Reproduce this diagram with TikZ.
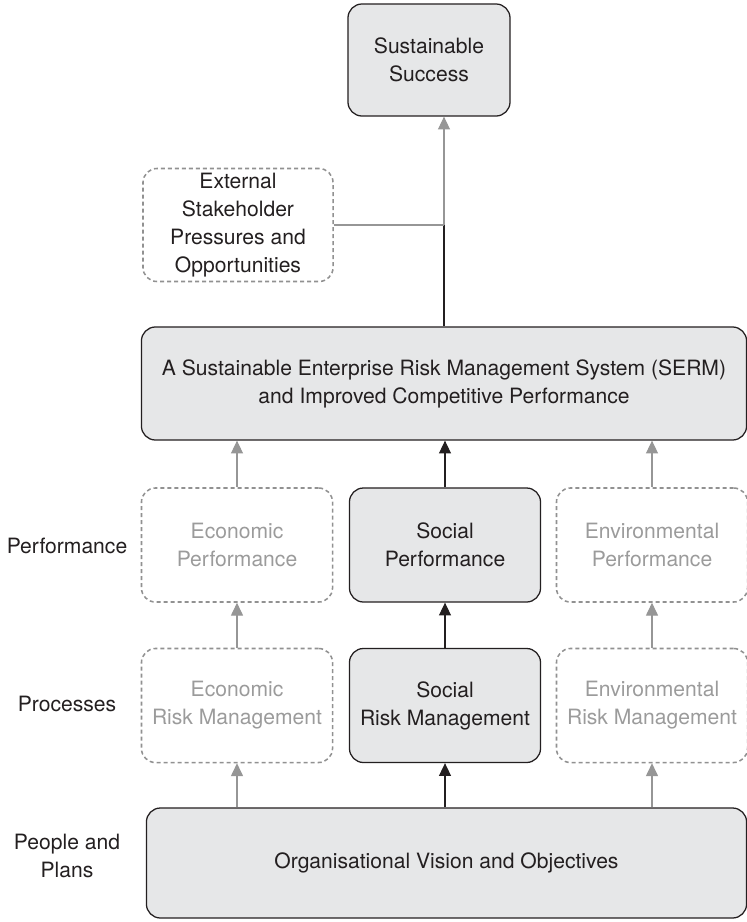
\documentclass[tikz,border=0pt]{standalone}
\usepackage{fontspec}
\setmainfont{TeX Gyre Heros}
\usetikzlibrary{arrows.meta}
\begin{document}
\begin{tikzpicture}[x=0.025cm, y=-0.025cm, line width=0.8pt,
    solidbox/.style={
            draw=inkcolor,
            fill=boxcolor,
            line width=0.9pt,
            rounded corners=0.35cm,
            align=center,
            inner sep=0pt,
            text=inkcolor,
            font=\fontsize{15}{20}\selectfont
          },
    dashbox/.style={
            draw=dashcolor,
            dash pattern=on 1mm off 0.75mm,
            line width=1.1pt,
            rounded corners=0.35cm,
            align=center,
            inner sep=0pt,
            text=dimcolor,
            font=\fontsize{15}{20}\selectfont
          },
    rowbox/.style={minimum width=4.775cm, minimum height=2.85cm},
    sidelabel/.style={align=center, text=inkcolor, font=\fontsize{15}{20}\selectfont},
    darkarrow/.style={draw=inkcolor, -{Triangle[width=3mm, length=3.2mm]}},
    greyarrow/.style={draw=arrowcolor, -{Triangle[width=3mm, length=3.2mm]}}]
        % Define colors
        \definecolor{boxcolor}{RGB}{230, 231, 232}
        \definecolor{inkcolor}{RGB}{35, 31, 32}
        \definecolor{dashcolor}{RGB}{145, 145, 145}
        \definecolor{dimcolor}{RGB}{155, 155, 155}
        \definecolor{arrowcolor}{RGB}{150, 150, 150}

    \useasboundingbox (0,0) rectangle (747,922);

    % top of the chain
    \node[solidbox, minimum width=4.05cm, minimum height=2.8cm] (success) at (429,60) {Sustainable\\Success};
    \node[dashbox, text=inkcolor, minimum width=4.75cm, minimum height=2.825cm] (external) at (238,225)
        {External\\Stakeholder\\Pressures and\\Opportunities};
    \node[solidbox, minimum width=15.125cm, minimum height=2.825cm] (serm) at (444,383.5)
        {A Sustainable Enterprise Risk Management System (SERM)\\and Improved Competitive Performance};

    % performance row
    \node[dashbox, rowbox] (ecoperf) at (237,545) {Economic\\Performance};
    \node[solidbox, rowbox] (socperf) at (445,545) {Social\\Performance};
    \node[dashbox, rowbox] (envperf) at (652,545) {Environmental\\Performance};

    % processes row
    \node[dashbox, rowbox] (ecorisk) at (237,705.5) {Economic\\Risk Management};
    \node[solidbox, rowbox] (socrisk) at (445,705.5) {Social\\Risk Management};
    \node[dashbox, rowbox] (envrisk) at (652,705.5) {Environmental\\Risk Management};

    % base
    \node[solidbox, minimum width=15cm, minimum height=2.75cm] (vision) at (446.5,863) {Organisational Vision and Objectives};

    % row labels
    \node[sidelabel] (lblperf) at (67,546) {Performance};
    \node[sidelabel] (lblproc) at (67,704) {Processes};
    \node[sidelabel] (lblpeople) at (67,856) {People and\\Plans};

    % connectors
    \coordinate (join) at (serm.north |- external.east);
    \draw[inkcolor] (serm.north) -- (join);
    \draw[arrowcolor] (external.east) -- (join);
    \draw[greyarrow] (join) -- (join |- success.south);

    \draw[greyarrow] (ecoperf.north) -- (ecoperf.north |- serm.south);
    \draw[darkarrow] (socperf.north) -- (socperf.north |- serm.south);
    \draw[greyarrow] (envperf.north) -- (envperf.north |- serm.south);

    \draw[greyarrow] (ecorisk.north) -- (ecoperf.south);
    \draw[darkarrow] (socrisk.north) -- (socperf.south);
    \draw[greyarrow] (envrisk.north) -- (envperf.south);

    \draw[greyarrow] (ecorisk.south |- vision.north) -- (ecorisk.south);
    \draw[darkarrow] (socrisk.south |- vision.north) -- (socrisk.south);
    \draw[greyarrow] (envrisk.south |- vision.north) -- (envrisk.south);

    \end{tikzpicture}
\end{document}
